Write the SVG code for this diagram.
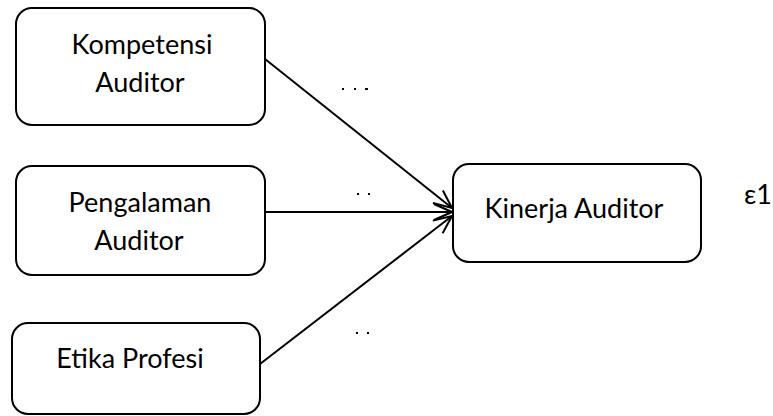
<svg xmlns="http://www.w3.org/2000/svg" width="773" height="416" viewBox="0 0 773 416">
<style>
.box{fill:#fff;stroke:#000;stroke-width:2}
.t{font-family:Lato,"Open Sans","Liberation Sans",sans-serif;font-size:27px;fill:#000;text-anchor:middle}
.c{stroke:#000;stroke-width:2;fill:none;marker-end:url(#ah)}
.dot{fill:#000}
</style>
<defs>
<marker id="ah" viewBox="0 0 20 20" refX="19" refY="10" markerWidth="20" markerHeight="20" markerUnits="userSpaceOnUse" orient="auto">
<path d="M1,2 L19,10 L1,18" fill="none" stroke="#000" stroke-width="2"/>
</marker>
</defs>
<rect width="773" height="416" fill="#fff"/>
<g id="kompetensi">
<rect class="box" x="16" y="8" width="249" height="117" rx="16"/>
<text class="t" x="142" y="54">Kompetensi</text>
<text class="t" x="140" y="92">Auditor</text>
</g>
<g id="pengalaman">
<rect class="box" x="16" y="166" width="249" height="109" rx="16"/>
<text class="t" x="140" y="212">Pengalaman</text>
<text class="t" x="139" y="250">Auditor</text>
</g>
<g id="etika">
<rect class="box" x="12" y="323" width="248" height="91" rx="16"/>
<text class="t" x="130" y="368">Etika Profesi</text>
</g>
<g id="kinerja">
<rect class="box" x="453" y="164" width="248" height="98" rx="16"/>
<text class="t" x="574" y="218">Kinerja Auditor</text>
</g>
<g id="epsilon">
<text class="t" x="758" y="204">ε1</text>
</g>
<g id="connectors">
<line class="c" x1="265" y1="59" x2="452" y2="208"/>
<line class="c" x1="265" y1="212" x2="452" y2="212"/>
<line class="c" x1="260" y1="364" x2="452" y2="216"/>
</g>
<g id="marks">
<rect class="dot" x="342" y="88" width="2" height="2"/>
<rect class="dot" x="354" y="88" width="2" height="2"/>
<rect class="dot" x="365" y="88" width="3" height="2"/>
<rect class="dot" x="357" y="193" width="2" height="2"/>
<rect class="dot" x="368" y="193" width="2" height="2"/>
<rect class="dot" x="356" y="332" width="2" height="2"/>
<rect class="dot" x="367" y="332" width="2" height="2"/>
</g>
</svg>
